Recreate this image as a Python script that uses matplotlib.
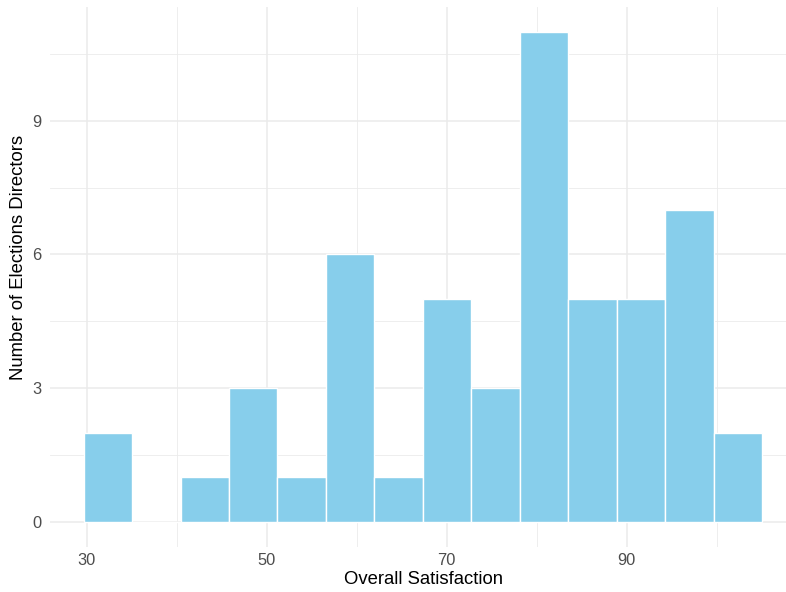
import numpy as np
import matplotlib
matplotlib.use("Agg")
import matplotlib.pyplot as plt

plt.rcParams['font.family'] = ['Liberation Sans', 'DejaVu Sans']

# histogram: 14 bins from ~29.65 to ~105.05
bin_lo = 29.65
bin_hi = 105.05
counts = [2, 0, 1, 3, 1, 6, 1, 5, 3, 11, 5, 5, 7, 2]

x_ticks = [30, 50, 70, 90]
x_minor = [40, 60, 80, 100]
y_ticks = [0, 3, 6, 9]
y_minor = [1.5, 4.5, 7.5, 10.5]

W, H = 786, 592
fig = plt.figure(figsize=(W / 100, H / 100), dpi=100)
# panel in pixels: left 50, right 786, top 7, bottom 546.5
ax = fig.add_axes([50 / W, (H - 546.5) / H, 736 / W, 539.5 / H])

edges = np.linspace(bin_lo, bin_hi, len(counts) + 1)
width = edges[1] - edges[0]

for v in x_ticks:
    ax.axvline(v, color='#EBEBEB', lw=1.1, zorder=0)
for v in x_minor:
    ax.axvline(v, color='#EBEBEB', lw=0.6, zorder=0)
for v in y_ticks:
    ax.axhline(v, color='#EBEBEB', lw=1.1, zorder=0)
for v in y_minor:
    ax.axhline(v, color='#EBEBEB', lw=0.6, zorder=0)

ax.bar(edges[:-1], counts, width=width, align='edge', color='#87CEEB',
       edgecolor='white', linewidth=1.0, zorder=2)

ax.set_xlim(25.92, 25.92 + 736 / 9)
ax.set_ylim(-0.55, 11.55)
ax.set_xticks(x_ticks)
ax.set_yticks(y_ticks)
ax.tick_params(length=0, labelsize=11.8, labelcolor='#4D4D4D')
ax.tick_params(axis='y', pad=6)
ax.tick_params(axis='x', pad=5)
for s in ax.spines.values():
    s.set_visible(False)

fig.text(423.5 / W, 1 - 579 / H, 'Overall Satisfaction', fontsize=13.3,
         ha='center', va='center')
fig.text(18.3 / W, 1 - 257.5 / H, 'Number of Elections Directors', fontsize=13.3,
         rotation=90, ha='center', va='center')

fig.savefig('out.png', dpi=100)
